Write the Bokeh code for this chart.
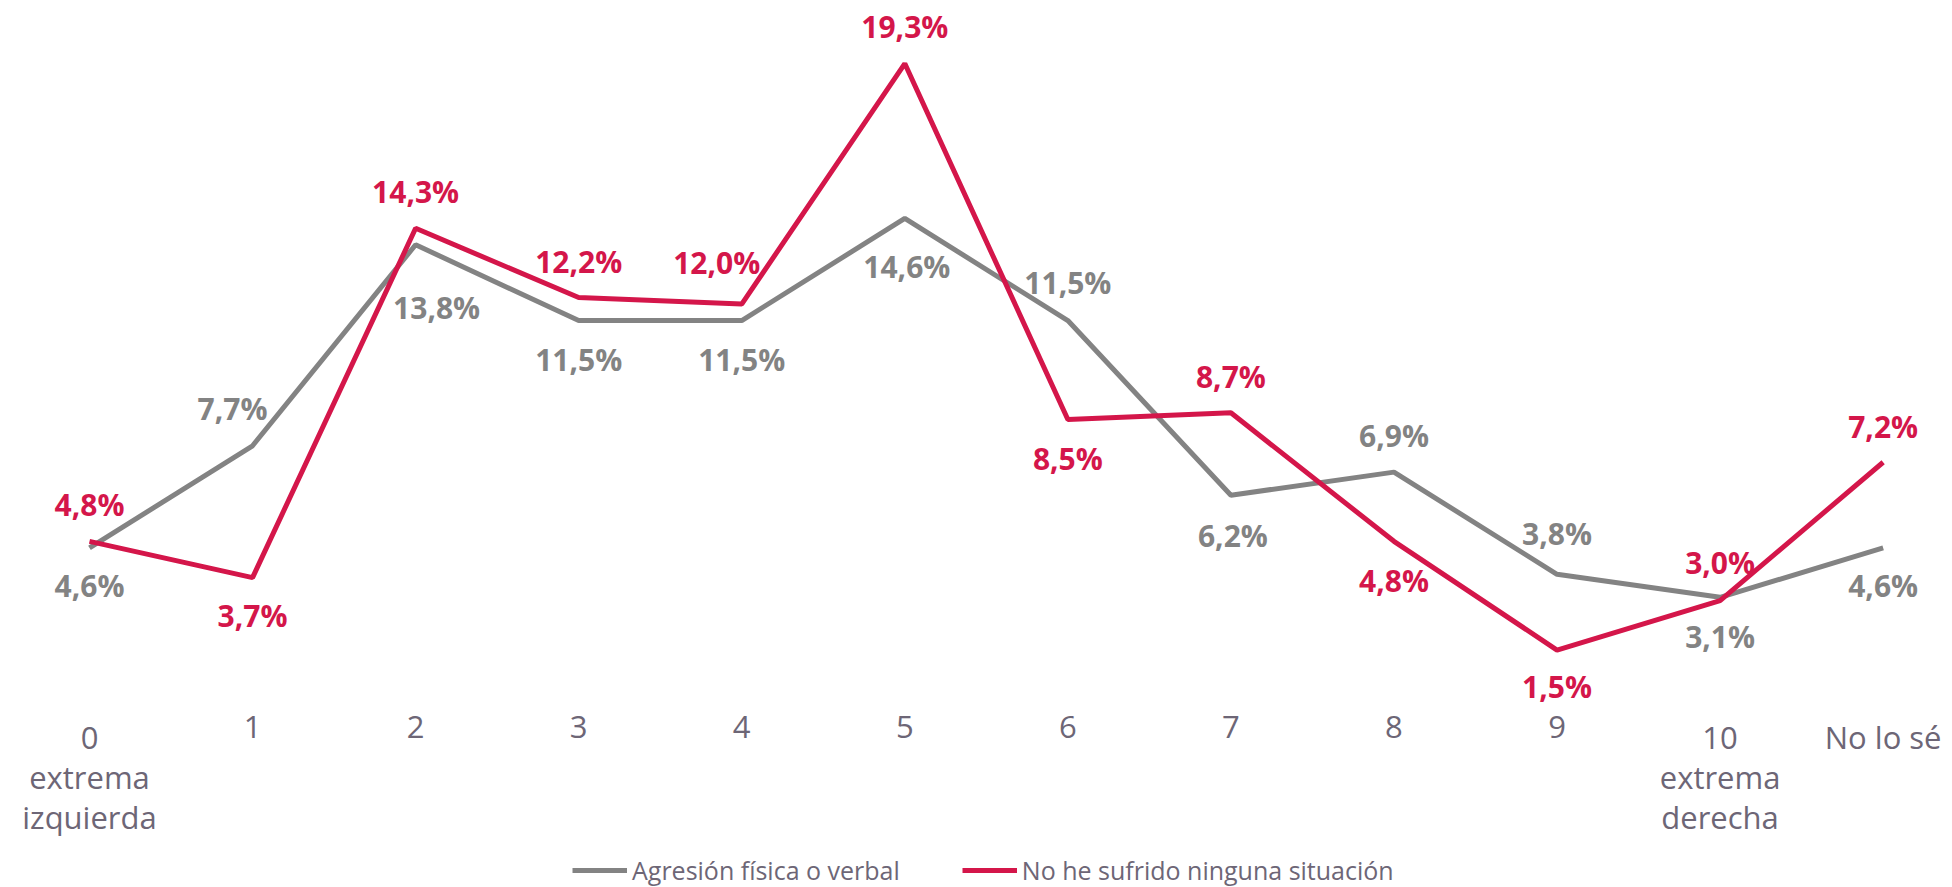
from bokeh.plotting import figure
from bokeh.models import ColumnDataSource, Range1d, Legend, LegendItem
from bokeh.core.properties import value
from bokeh.embed import file_html
from bokeh.resources import INLINE

# ---- data ----
categories = ["0\nextrema\nizquierda", "1", "2", "3", "4", "5", "6", "7", "8", "9",
              "10\nextrema\nderecha", "No lo sé"]
agresion = [4.6, 7.7, 13.8, 11.5, 11.5, 14.6, 11.5, 6.2, 6.9, 3.8, 3.1, 4.6]
ninguna = [4.8, 3.7, 14.3, 12.2, 12.0, 19.3, 8.5, 8.7, 4.8, 1.5, 3.0, 7.2]
series_names = ["Agresión física o verbal", "No he sufrido ninguna situación"]

# ---- label placement (screen px offsets, style only) ----
agresion_dx = [0, -20, 21, 0, 0, 2, 0, 2, 0, 0, 0, 0]
agresion_dy = [38, -37, 63, 39, 39, 48, -38, 40, -37, -41, 39, 38]
ninguna_dx = [0, 0, 0, 0, -25, 0, 0, 0, 0, 0, 0, 0]
ninguna_dy = [-37, 38, -37, -36, -42, -37, 39, -36, 39, 36, -38, -36]

GRAY = "#838383"
RED = "#D4164A"
AXIS_TEXT = "#6D6676"
FONT = "Open Sans"

xs = list(range(len(categories)))


def fmt(v):
    return f"{v:.1f}".replace(".", ",") + "%"


p = figure(width=1952, height=887,
           output_backend="svg", toolbar_location=None,
           x_range=Range1d(-0.5458, 11.4253), y_range=Range1d(-5.706, 21.214),
           min_border_left=0, min_border_right=0, min_border_top=0,
           min_border_bottom=0)

p.outline_line_color = None
p.background_fill_color = None
p.border_fill_color = "white"
p.grid.visible = False
p.xaxis.visible = False
p.yaxis.visible = False

src_a = ColumnDataSource(dict(x=xs, y=agresion, label=[fmt(v) for v in agresion],
                              dx=agresion_dx, dy=agresion_dy))
src_n = ColumnDataSource(dict(x=xs, y=ninguna, label=[fmt(v) for v in ninguna],
                              dx=ninguna_dx, dy=ninguna_dy))

r_a = p.line("x", "y", source=src_a, line_color=GRAY, line_width=5)
r_n = p.line("x", "y", source=src_n, line_color=RED, line_width=5)

for src, col in ((src_a, GRAY), (src_n, RED)):
    p.text("x", "y", text="label", source=src, x_offset="dx", y_offset="dy",
           text_align="center", text_baseline="middle",
           text_font=value(FONT), text_font_style="bold",
           text_font_size="30px", text_color=col)

# category labels (x axis)
src_c = ColumnDataSource(dict(x=xs, y=[0] * len(xs), label=categories))
p.text("x", "y", text="label", source=src_c, y_offset=17,
       text_align="center", text_baseline="top", text_line_height=0.95,
       text_font=value(FONT), text_font_size="31px", text_color=AXIS_TEXT)

legend = Legend(items=[LegendItem(label=series_names[0], renderers=[r_a]),
                       LegendItem(label=series_names[1], renderers=[r_n])],
                orientation="horizontal", location=(572, 0),
                label_text_font=FONT, label_text_font_size="25px",
                label_text_color=AXIS_TEXT, glyph_width=55, glyph_height=20,
                label_standoff=5, spacing=62, border_line_color=None,
                background_fill_alpha=0, padding=0, margin=0)
p.add_layout(legend)

open("out.html", "w").write(file_html(p, INLINE))
